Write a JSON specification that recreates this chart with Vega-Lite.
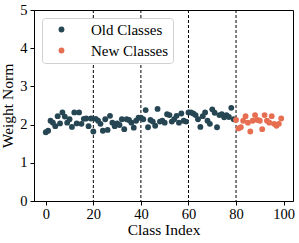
{
  "$schema": "https://vega.github.io/schema/vega-lite/v6.json",
  "width": 259,
  "height": 191,
  "autosize": {"type": "none"},
  "padding": {"left": 34, "top": 10, "right": 6, "bottom": 42},
  "background": "white",
  "view": {"stroke": "black", "strokeWidth": 1},
  "config": {
    "font": "Times New Roman",
    "axis": {"labelFont": "Times New Roman", "titleFont": "Times New Roman", "labelColor": "black", "titleColor": "black", "domainColor": "black", "tickColor": "black", "grid": false, "titleFontWeight": "normal"}
  },
  "layer": [
    {
      "data": {"values": [{"v": 20}, {"v": 40}, {"v": 60}, {"v": 80}]},
      "mark": {"type": "rule", "color": "black", "strokeDash": [3, 2], "strokeWidth": 1},
      "encoding": {"x": {"field": "v", "type": "quantitative", "scale": {"domain": [-4.95, 103.95], "nice": false, "zero": false}}}
    },
    {
      "data": {"values": [
        {"i":0,"w":1.80,"g":"Old Classes"},{"i":1,"w":1.84,"g":"Old Classes"},{"i":2,"w":2.10,"g":"Old Classes"},{"i":3,"w":2.05,"g":"Old Classes"},{"i":4,"w":1.96,"g":"Old Classes"},
        {"i":5,"w":2.22,"g":"Old Classes"},{"i":6,"w":2.03,"g":"Old Classes"},{"i":7,"w":2.32,"g":"Old Classes"},{"i":8,"w":2.21,"g":"Old Classes"},{"i":9,"w":2.05,"g":"Old Classes"},
        {"i":10,"w":2.14,"g":"Old Classes"},{"i":11,"w":1.94,"g":"Old Classes"},{"i":12,"w":2.32,"g":"Old Classes"},{"i":13,"w":2.03,"g":"Old Classes"},{"i":14,"w":2.32,"g":"Old Classes"},
        {"i":15,"w":2.02,"g":"Old Classes"},{"i":16,"w":2.15,"g":"Old Classes"},{"i":17,"w":2.16,"g":"Old Classes"},{"i":18,"w":1.96,"g":"Old Classes"},{"i":19,"w":2.16,"g":"Old Classes"},
        {"i":20,"w":1.82,"g":"Old Classes"},{"i":21,"w":2.15,"g":"Old Classes"},{"i":22,"w":2.10,"g":"Old Classes"},{"i":23,"w":2.02,"g":"Old Classes"},{"i":24,"w":1.84,"g":"Old Classes"},
        {"i":25,"w":2.14,"g":"Old Classes"},{"i":26,"w":1.86,"g":"Old Classes"},{"i":27,"w":2.23,"g":"Old Classes"},{"i":28,"w":2.05,"g":"Old Classes"},{"i":29,"w":1.96,"g":"Old Classes"},
        {"i":30,"w":2.03,"g":"Old Classes"},{"i":31,"w":1.99,"g":"Old Classes"},{"i":32,"w":2.14,"g":"Old Classes"},{"i":33,"w":1.88,"g":"Old Classes"},{"i":34,"w":2.14,"g":"Old Classes"},
        {"i":35,"w":2.12,"g":"Old Classes"},{"i":36,"w":2.05,"g":"Old Classes"},{"i":37,"w":1.92,"g":"Old Classes"},{"i":38,"w":2.10,"g":"Old Classes"},{"i":39,"w":2.18,"g":"Old Classes"},
        {"i":40,"w":2.18,"g":"Old Classes"},{"i":41,"w":2.14,"g":"Old Classes"},{"i":42,"w":2.38,"g":"Old Classes"},{"i":43,"w":1.93,"g":"Old Classes"},{"i":44,"w":2.12,"g":"Old Classes"},
        {"i":45,"w":2.08,"g":"Old Classes"},{"i":46,"w":1.97,"g":"Old Classes"},{"i":47,"w":2.41,"g":"Old Classes"},{"i":48,"w":2.08,"g":"Old Classes"},{"i":49,"w":2.10,"g":"Old Classes"},
        {"i":50,"w":2.05,"g":"Old Classes"},{"i":51,"w":2.27,"g":"Old Classes"},{"i":52,"w":2.25,"g":"Old Classes"},{"i":53,"w":2.08,"g":"Old Classes"},{"i":54,"w":2.14,"g":"Old Classes"},
        {"i":55,"w":2.23,"g":"Old Classes"},{"i":56,"w":2.05,"g":"Old Classes"},{"i":57,"w":2.29,"g":"Old Classes"},{"i":58,"w":2.10,"g":"Old Classes"},{"i":59,"w":2.08,"g":"Old Classes"},
        {"i":60,"w":2.32,"g":"Old Classes"},{"i":61,"w":2.32,"g":"Old Classes"},{"i":62,"w":2.29,"g":"Old Classes"},{"i":63,"w":2.25,"g":"Old Classes"},{"i":64,"w":2.14,"g":"Old Classes"},
        {"i":65,"w":1.94,"g":"Old Classes"},{"i":66,"w":2.22,"g":"Old Classes"},{"i":67,"w":2.32,"g":"Old Classes"},{"i":68,"w":2.10,"g":"Old Classes"},{"i":69,"w":2.02,"g":"Old Classes"},
        {"i":70,"w":2.40,"g":"Old Classes"},{"i":71,"w":2.31,"g":"Old Classes"},{"i":72,"w":1.93,"g":"Old Classes"},{"i":73,"w":2.25,"g":"Old Classes"},{"i":74,"w":2.27,"g":"Old Classes"},
        {"i":75,"w":2.19,"g":"Old Classes"},{"i":76,"w":2.25,"g":"Old Classes"},{"i":77,"w":2.20,"g":"Old Classes"},{"i":78,"w":2.44,"g":"Old Classes"},{"i":79,"w":2.14,"g":"Old Classes"},
        {"i":80,"w":2.12,"g":"New Classes"},{"i":81,"w":1.90,"g":"New Classes"},{"i":82,"w":1.93,"g":"New Classes"},{"i":83,"w":2.10,"g":"New Classes"},{"i":84,"w":2.22,"g":"New Classes"},
        {"i":85,"w":2.05,"g":"New Classes"},{"i":86,"w":1.82,"g":"New Classes"},{"i":87,"w":2.10,"g":"New Classes"},{"i":88,"w":2.25,"g":"New Classes"},{"i":89,"w":2.12,"g":"New Classes"},
        {"i":90,"w":2.10,"g":"New Classes"},{"i":91,"w":1.88,"g":"New Classes"},{"i":92,"w":2.25,"g":"New Classes"},{"i":93,"w":2.10,"g":"New Classes"},{"i":94,"w":2.05,"g":"New Classes"},
        {"i":95,"w":2.22,"g":"New Classes"},{"i":96,"w":2.02,"g":"New Classes"},{"i":97,"w":1.97,"g":"New Classes"},{"i":98,"w":2.02,"g":"New Classes"},{"i":99,"w":2.16,"g":"New Classes"}
      ]},
      "mark": {"type": "circle", "size": 34, "opacity": 1},
      "encoding": {
        "x": {"field": "i", "type": "quantitative", "scale": {"domain": [-4.95, 103.95], "nice": false, "zero": false},
              "axis": {"title": "Class Index", "values": [0, 20, 40, 60, 80, 100], "labelFontSize": 14.5, "titleFontSize": 15.5, "tickSize": 4, "labelPadding": 2, "titlePadding": 2, "labelFlush": false}},
        "y": {"field": "w", "type": "quantitative", "scale": {"domain": [0, 5], "nice": false},
              "axis": {"title": "Weight Norm", "values": [0, 1, 2, 3, 4, 5], "labelFontSize": 14.5, "titleFontSize": 15.5, "tickSize": 4, "labelPadding": 3, "titlePadding": 4, "labelFlush": false}},
        "color": {"field": "g", "type": "nominal",
                  "scale": {"domain": ["Old Classes", "New Classes"], "range": ["#264653", "#e76f51"]},
                  "legend": {"title": null, "orient": "none", "legendX": 8, "legendY": 8, "strokeColor": "#d0d0d0", "fillColor": "white", "cornerRadius": 3, "padding": 4, "symbolType": "circle", "symbolSize": 34, "symbolOffset": 8, "labelFontSize": 15, "labelFont": "Times New Roman", "labelColor": "black", "labelOffset": 22, "rowPadding": 5, "symbolOpacity": 1}}
      }
    }
  ]
}
